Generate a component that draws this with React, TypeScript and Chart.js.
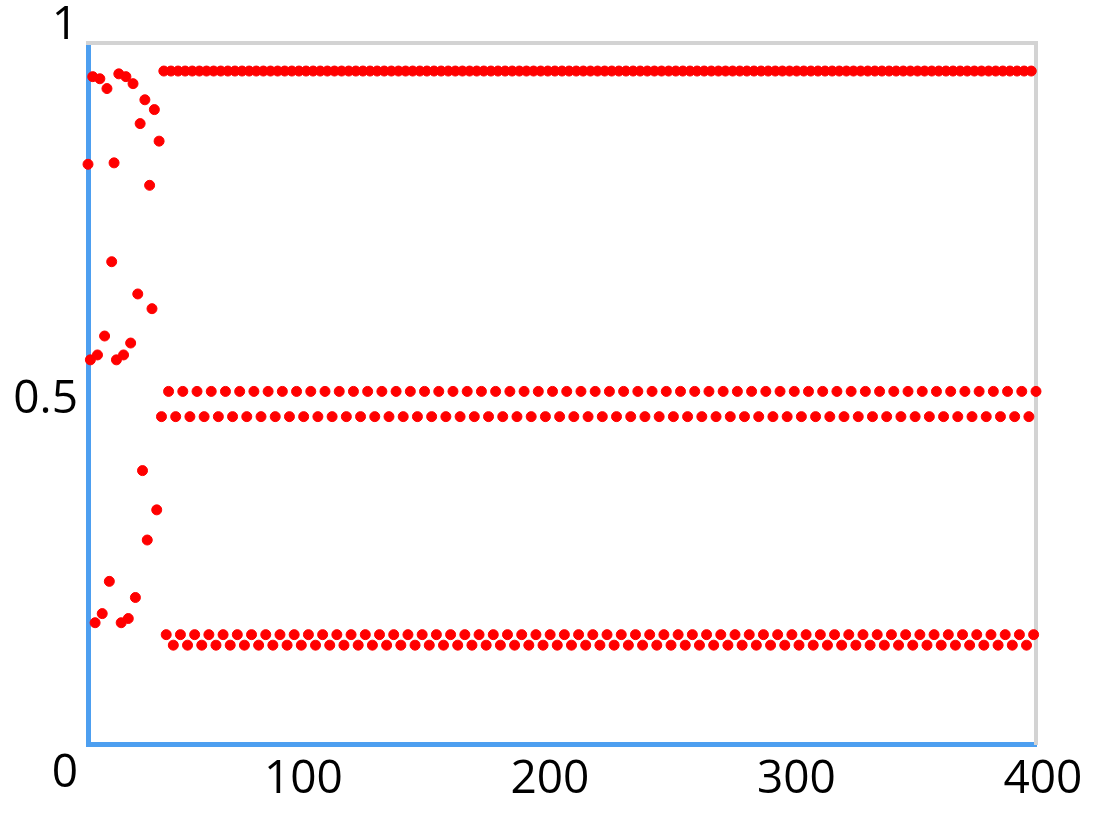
import React, { useEffect, useRef } from 'react';
import { Chart, registerables } from 'chart.js';

Chart.register(...registerables);

// iterations 0..30, before the orbit settles
const transientValues = [
  0.827, 0.548, 0.952, 0.173, 0.555, 0.949, 0.186, 0.582, 0.935, 0.232,
  0.688, 0.829, 0.548, 0.956, 0.173, 0.555, 0.952, 0.179, 0.572, 0.942,
  0.209, 0.642, 0.885, 0.390, 0.919, 0.291, 0.797, 0.621, 0.905, 0.334,
  0.860,
];

// iterations 31..400, the settled 6-cycle
const settledValues = [
  0.467, 0.960, 0.156, 0.503, 0.960, 0.141,
  0.467, 0.960, 0.156, 0.503, 0.960, 0.141,
  0.467, 0.960, 0.156, 0.503, 0.960, 0.141,
  0.467, 0.960, 0.156, 0.503, 0.960, 0.141,
  0.467, 0.960, 0.156, 0.503, 0.960, 0.141,
  0.467, 0.960, 0.156, 0.503, 0.960, 0.141,
  0.467, 0.960, 0.156, 0.503, 0.960, 0.141,
  0.467, 0.960, 0.156, 0.503, 0.960, 0.141,
  0.467, 0.960, 0.156, 0.503, 0.960, 0.141,
  0.467, 0.960, 0.156, 0.503, 0.960, 0.141,
  0.467, 0.960, 0.156, 0.503, 0.960, 0.141,
  0.467, 0.960, 0.156, 0.503, 0.960, 0.141,
  0.467, 0.960, 0.156, 0.503, 0.960, 0.141,
  0.467, 0.960, 0.156, 0.503, 0.960, 0.141,
  0.467, 0.960, 0.156, 0.503, 0.960, 0.141,
  0.467, 0.960, 0.156, 0.503, 0.960, 0.141,
  0.467, 0.960, 0.156, 0.503, 0.960, 0.141,
  0.467, 0.960, 0.156, 0.503, 0.960, 0.141,
  0.467, 0.960, 0.156, 0.503, 0.960, 0.141,
  0.467, 0.960, 0.156, 0.503, 0.960, 0.141,
  0.467, 0.960, 0.156, 0.503, 0.960, 0.141,
  0.467, 0.960, 0.156, 0.503, 0.960, 0.141,
  0.467, 0.960, 0.156, 0.503, 0.960, 0.141,
  0.467, 0.960, 0.156, 0.503, 0.960, 0.141,
  0.467, 0.960, 0.156, 0.503, 0.960, 0.141,
  0.467, 0.960, 0.156, 0.503, 0.960, 0.141,
  0.467, 0.960, 0.156, 0.503, 0.960, 0.141,
  0.467, 0.960, 0.156, 0.503, 0.960, 0.141,
  0.467, 0.960, 0.156, 0.503, 0.960, 0.141,
  0.467, 0.960, 0.156, 0.503, 0.960, 0.141,
  0.467, 0.960, 0.156, 0.503, 0.960, 0.141,
  0.467, 0.960, 0.156, 0.503, 0.960, 0.141,
  0.467, 0.960, 0.156, 0.503, 0.960, 0.141,
  0.467, 0.960, 0.156, 0.503, 0.960, 0.141,
  0.467, 0.960, 0.156, 0.503, 0.960, 0.141,
  0.467, 0.960, 0.156, 0.503, 0.960, 0.141,
  0.467, 0.960, 0.156, 0.503, 0.960, 0.141,
  0.467, 0.960, 0.156, 0.503, 0.960, 0.141,
  0.467, 0.960, 0.156, 0.503, 0.960, 0.141,
  0.467, 0.960, 0.156, 0.503, 0.960, 0.141,
  0.467, 0.960, 0.156, 0.503, 0.960, 0.141,
  0.467, 0.960, 0.156, 0.503, 0.960, 0.141,
  0.467, 0.960, 0.156, 0.503, 0.960, 0.141,
  0.467, 0.960, 0.156, 0.503, 0.960, 0.141,
  0.467, 0.960, 0.156, 0.503, 0.960, 0.141,
  0.467, 0.960, 0.156, 0.503, 0.960, 0.141,
  0.467, 0.960, 0.156, 0.503, 0.960, 0.141,
  0.467, 0.960, 0.156, 0.503, 0.960, 0.141,
  0.467, 0.960, 0.156, 0.503, 0.960, 0.141,
  0.467, 0.960, 0.156, 0.503, 0.960, 0.141,
  0.467, 0.960, 0.156, 0.503, 0.960, 0.141,
  0.467, 0.960, 0.156, 0.503, 0.960, 0.141,
  0.467, 0.960, 0.156, 0.503, 0.960, 0.141,
  0.467, 0.960, 0.156, 0.503, 0.960, 0.141,
  0.467, 0.960, 0.156, 0.503, 0.960, 0.141,
  0.467, 0.960, 0.156, 0.503, 0.960, 0.141,
  0.467, 0.960, 0.156, 0.503, 0.960, 0.141,
  0.467, 0.960, 0.156, 0.503, 0.960, 0.141,
  0.467, 0.960, 0.156, 0.503, 0.960, 0.141,
  0.467, 0.960, 0.156, 0.503, 0.960, 0.141,
  0.467, 0.960, 0.156, 0.503, 0.960, 0.141,
  0.467, 0.960, 0.156, 0.503,
];

const seriesValues = [...transientValues, ...settledValues];

const xTickValues = [100, 200, 300, 400];
const yTickValues = [0, 0.5, 1];

const BLUE = '#4d9ff0';
const GRAY = '#d3d3d3';
const RED = '#ff0000';
const labelFont = { family: "'Open Sans', 'Noto Sans', sans-serif", size: 46 };

// zero-size axes: they only draw the frame lines round the plot
const frameAxis = (position: string, color: string, width: number, horizontal: boolean) => ({
  type: 'linear' as const,
  position,
  weight: 0,
  grid: { display: false, drawTicks: false },
  ticks: { display: false },
  border: { display: true, color, width },
  afterFit: (scale: any) => {
    if (horizontal) scale.height = 0;
    else scale.width = 0;
  },
});

const App: React.FC = () => {
  const canvas = useRef<HTMLCanvasElement | null>(null);
  const chartRef = useRef<Chart | null>(null);

  useEffect(() => {
    const ctx = canvas.current;
    if (!ctx) return;
    if (chartRef.current) chartRef.current.destroy();

    chartRef.current = new Chart(ctx, {
      type: 'scatter',
      data: {
        datasets: [
          {
            label: 'x(n)',
            data: seriesValues.map((v, i) => ({ x: i, y: v })),
            backgroundColor: RED,
            borderColor: RED,
            borderWidth: 1,
            pointRadius: 5,
            clip: false as any,
          },
        ],
      },
      options: {
        animation: false,
        responsive: true,
        maintainAspectRatio: false,
        events: [],
        layout: { padding: { top: 43, right: 60, left: 0, bottom: 0 } },
        plugins: {
          legend: { display: false },
          tooltip: { enabled: false },
        },
        scales: {
          x: { ...frameAxis('bottom', BLUE, 5, true), min: 0, max: 400 },
          y: { ...frameAxis('left', BLUE, 5, false), min: 0, max: 1 },
          xTop: { ...frameAxis('top', GRAY, 4, true), min: 0, max: 400 },
          yRight: { ...frameAxis('right', GRAY, 4, false), min: 0, max: 1 },
          // label axes, laid out like the reference's tick text
          xLabels: {
            type: 'linear',
            position: 'bottom',
            weight: 1,
            min: 12.6,
            max: 397.2,
            bounds: 'data',
            grid: { display: false, drawTicks: false },
            border: { display: false },
            ticks: {
              autoSkip: false,
              maxRotation: 0,
              padding: 8,
              color: '#000',
              font: labelFont,
              callback: (v: any) => String(v),
            },
            afterBuildTicks: (scale: any) => {
              scale.ticks = xTickValues.map((value) => ({ value }));
            },
            afterFit: (scale: any) => {
              scale.height = 69;
            },
          },
          yLabels: {
            type: 'linear',
            position: 'left',
            weight: 1,
            min: 0.0401,
            max: 0.9773,
            bounds: 'data',
            grid: { display: false, drawTicks: false },
            border: { display: false },
            ticks: {
              autoSkip: false,
              padding: 10,
              color: '#000',
              font: labelFont,
              callback: (v: any) => String(v),
            },
            afterBuildTicks: (scale: any) => {
              scale.ticks = yTickValues.map((value) => ({ value }));
            },
            afterFit: (scale: any) => {
              scale.width = 88;
            },
          },
        },
      } as any,
    });

    return () => {
      chartRef.current?.destroy();
      chartRef.current = null;
    };
  }, []);

  return (
    <div style={{ position: 'absolute', left: 0, top: 0, width: 1096, height: 813 }}>
      <canvas ref={canvas}></canvas>
    </div>
  );
};

export default App;
